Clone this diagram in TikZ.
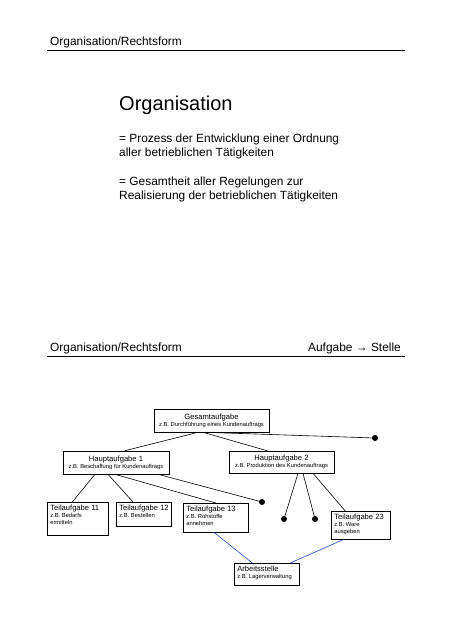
\documentclass[tikz,border=0pt]{standalone}
\usepackage{fontspec}
\setmainfont{Liberation Sans}
\newcommand\bxt{\fontsize{7.6}{9}\selectfont}
\newcommand\bxs{\fontsize{5.8}{6.8}\selectfont}
\newcommand\lcontent[4]{\parbox[c][#1][t]{#2}{\raggedright\vspace*{2.2pt}{\bxt\hbox{#3}\par}\vspace{0.4pt}{\bxs #4\par}}}
\definecolor{lineblue}{RGB}{40,70,200}
\begin{document}
\begin{tikzpicture}[x=1pt,y=-1pt,
  hdr/.style={anchor=base west,inner sep=0pt,font=\fontsize{11.9}{13.7}\selectfont},
  body/.style={anchor=base west,inner sep=0pt,font=\fontsize{11.9}{13.7}\selectfont},
  cbox/.style={draw,line width=0.6pt,inner sep=0pt,align=center},
  lbox/.style={draw,line width=0.6pt,inner xsep=3pt,inner ysep=0pt,anchor=north west},
  conn/.style={line width=0.6pt},
  bconn/.style={line width=0.6pt,draw=lineblue},
  dot/.style={circle,fill=black,inner sep=0pt,minimum size=6pt}]
\useasboundingbox (0,0) rectangle (452,640);

% top half
\node[hdr] (h1) at (50,45) {Organisation/Rechtsform};
\draw[line width=0.8pt] (47,50) -- (405,50);
\node[anchor=base west,inner sep=0pt,font=\fontsize{20}{24}\selectfont] (title) at (119,110) {Organisation};
\node[body] (l1) at (119,142.5) {= Prozess der Entwicklung einer Ordnung};
\node[body] (l2) at (119,156.2) {aller betrieblichen Tätigkeiten};
\node[body] (l3) at (119,185.5) {= Gesamtheit aller Regelungen zur};
\node[body] (l4) at (119,199.2) {Realisierung der betrieblichen Tätigkeiten};

% bottom half
\node[hdr] (h2) at (50,351.3) {Organisation/Rechtsform};
\node[anchor=base east,inner sep=0pt,font=\fontsize{11.9}{13.7}\selectfont] (h2r) at (401,351.3) {Aufgabe → Stelle};
\draw[line width=0.8pt] (47,356) -- (405,356);

\node[cbox,minimum width=115pt,minimum height=23pt] (g) at (211.5,420.5)
  {\bxt Gesamtaufgabe\\[-5pt]\bxs z.B. Durchführung eines Kundenauftrags};
\node[cbox,minimum width=106pt,minimum height=23pt] (ha1) at (116,462.5)
  {\bxt Hauptaufgabe 1\\[-5pt]\bxs z.B. Beschaffung für Kundenauftrags};
\node[cbox,minimum width=105pt,minimum height=22pt] (ha2) at (281.5,462)
  {\bxt Hauptaufgabe 2\\[-5pt]\bxs z.B. Produktion des Kundenauftrags};

\node[lbox] (t11) at (47,502) {\lcontent{33pt}{55pt}{Teilaufgabe 11}{z.B. Bedarfs\par ermitteln}};
\node[lbox] (t12) at (116,502) {\lcontent{24pt}{48pt}{Teilaufgabe 12}{z.B. Bestellen}};
\node[lbox] (t13) at (183,503) {\lcontent{29pt}{59pt}{Teilaufgabe 13}{z.B. Rohstoffe\par annehmen}};
\node[lbox] (t23) at (331,511) {\lcontent{28pt}{53pt}{Teilaufgabe 23}{z.B. Ware\par ausgeben}};
\node[lbox] (as) at (234,563) {\lcontent{22pt}{59pt}{Arbeitsstelle}{z.B. Lagerverwaltung}};

\node[dot] (d1) at (375,438) {};
\node[dot] (d2) at (262,502) {};
\node[dot] (d3) at (284,519) {};
\node[dot] (d4) at (315,519) {};

\draw[conn] ([xshift=-13.5pt]g.south) -- ([xshift=9pt]ha1.north);
\draw[conn] ([xshift=-8.5pt]g.south) -- ([xshift=-14.5pt]ha2.north);
\draw[conn] ([xshift=-6.5pt]g.south) -- (d1.center);

\draw[conn] ([xshift=-21pt]ha1.south) -- ([xshift=-5.5pt]t11.north);
\draw[conn] ([xshift=-8pt]ha1.south) -- ([xshift=-11pt]t12.north);
\draw[conn] ([xshift=-1pt]ha1.south) -- (t13.north);
\draw[conn] ([xshift=42pt]ha1.south) -- (d2.center);

\draw[conn] ([xshift=16.5pt]ha2.south) -- (d3.center);
\draw[conn] ([xshift=21.5pt]ha2.south) -- (d4.center);
\draw[conn] ([xshift=31.5pt]ha2.south) -- ([xshift=-15.5pt]t23.north);

\draw[bconn] ([xshift=-1.5pt]t13.south) -- ([xshift=-14.5pt]as.north);
\draw[bconn] ([xshift=-17.5pt]t23.south) -- ([xshift=23.5pt]as.north);
\end{tikzpicture}
\end{document}
